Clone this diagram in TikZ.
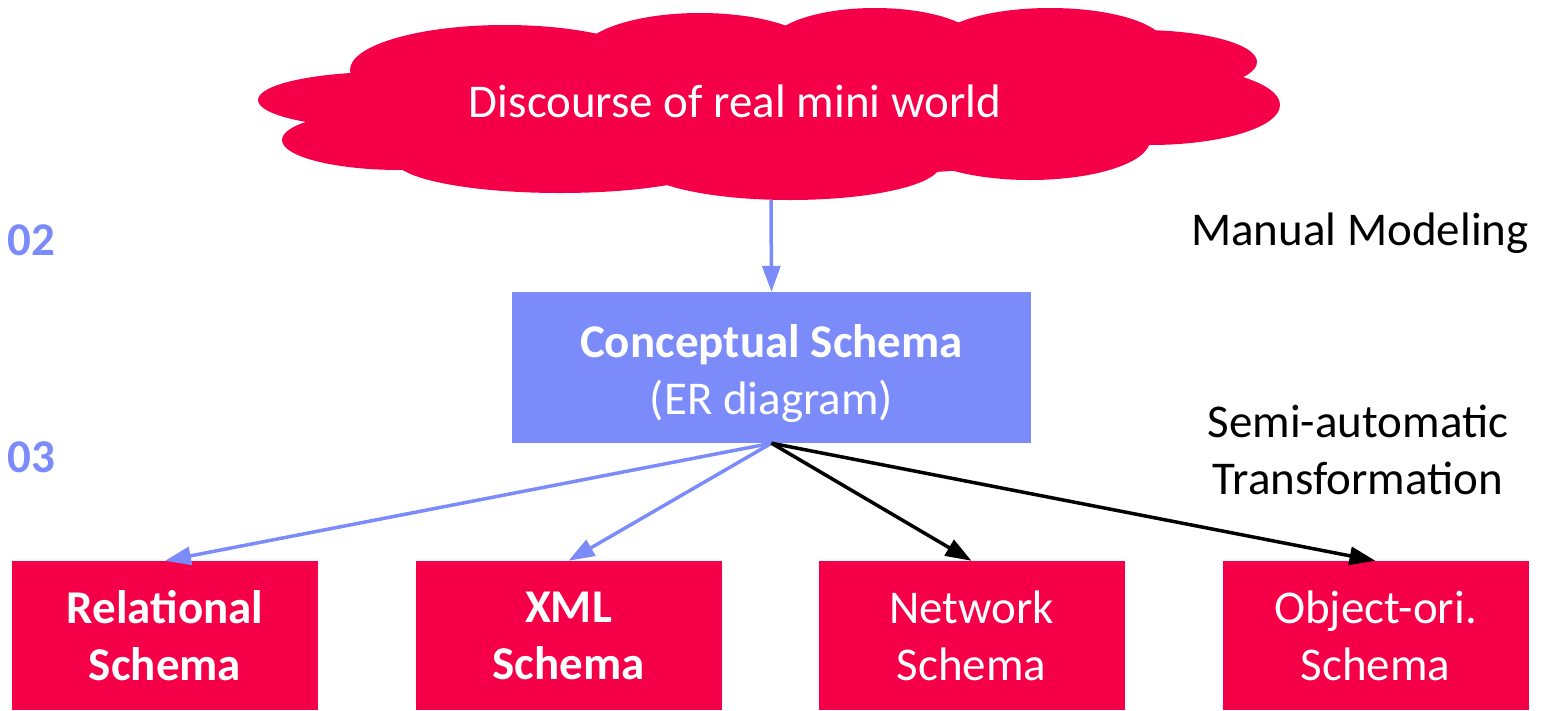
\documentclass[tikz,border=0pt]{standalone}
\usepackage{fontspec}
\setmainfont{Carlito}
\usetikzlibrary{arrows.meta}
\definecolor{crim}{RGB}{245,0,72}
\definecolor{lblue}{RGB}{123,140,250}
\tikzset{
  txt/.style={font=\fontsize{47}{57}\selectfont, align=center, inner sep=0pt},
  redbox/.style={txt, fill=crim, text=white, minimum width=306pt, minimum height=149pt},
  bluebox/.style={txt, fill=lblue, text=white, minimum width=519pt, minimum height=151pt},
  blarrow/.style={draw=lblue, line width=3.5pt, -{Triangle[length=26pt,width=18pt]}},
  bkarrow/.style={draw=black, line width=3.5pt, -{Triangle[length=26pt,width=18pt]}},
  num/.style={txt, text=lblue, font=\fontsize{47}{57}\selectfont\bfseries}
}
\begin{document}
\begin{tikzpicture}[x=1pt,y=-1pt]
\useasboundingbox (0,0) rectangle (1545,710);
% cloud
\begin{scope}[fill=crim]
\fill (385,100) ellipse [x radius=127, y radius=28];
\fill (400,140) ellipse [x radius=118, y radius=30];
\fill (560,160) ellipse [x radius=165, y radius=33];
\fill (790,165) ellipse [x radius=150, y radius=35];
\fill (1030,140) ellipse [x radius=120, y radius=40];
\fill (1150,105) ellipse [x radius=130, y radius=40];
\fill (1140,62) ellipse [x radius=117, y radius=32];
\fill (1050,45) ellipse [x radius=115, y radius=37];
\fill (875,45) ellipse [x radius=105, y radius=37];
\fill (700,55) ellipse [x radius=120, y radius=42];
\fill (505,70) ellipse [x radius=155, y radius=45];
\fill (770,105) ellipse [x radius=450, y radius=72];
\end{scope}
\node[txt, text=white] (cloud) at (735,101) {Discourse of real mini world};
\coordinate (cloudbottom) at (771,200);

\node[bluebox] (cs) at (771.5,367.5) {};
\node[txt, text=white] (cslabel) at (771.5,373.5) {\textbf{Conceptual Schema}\\(ER diagram)};

\node[redbox] (rel) at (165,635.5) {\textbf{Relational}\\\textbf{Schema}};
\node[redbox] (xml) at (568.5,635.5) {\textbf{XML}\\\textbf{Schema}};
\node[redbox] (net) at (971.5,635.5) {Network\\Schema};
\node[redbox] (obj) at (1375.5,635.5) {Object-ori.\\Schema};

\node[num] (n02) at (31,240) {02};
\node[num] (n03) at (31,457) {03};
\node[txt] (mm) at (1360,233) {Manual Modeling};
\node[txt] (sa) at (1358,450) {Semi-automatic\\Transformation};

\draw[blarrow] (cloudbottom) -- (cs.north);
\draw[blarrow] (cs.south) -- (rel.north);
\draw[blarrow] (cs.south) -- (xml.north);
\draw[bkarrow] (cs.south) -- (net.north);
\draw[bkarrow] (cs.south) -- (obj.north);
\end{tikzpicture}
\end{document}
